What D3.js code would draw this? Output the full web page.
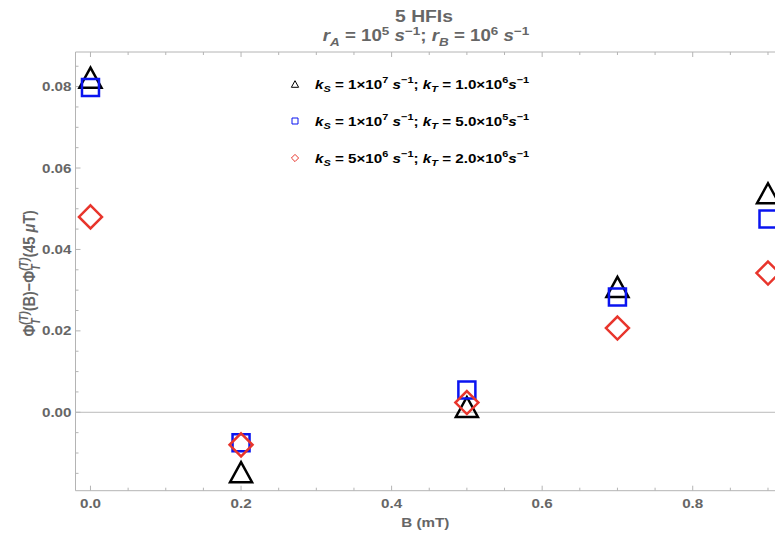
<!DOCTYPE html>
<html>
<head>
<meta charset="utf-8">
<script src="https://cdn.jsdelivr.net/npm/d3@7"></script>
<style>
  body { margin: 0; background: #fff; }
  svg { display: block; font-family: "Liberation Sans", Arial, sans-serif; }
</style>
</head>
<body>
<svg id="chart" width="775" height="538"></svg>
<script>
// field values (mT)
const fields = [0.0, 0.2, 0.5, 0.7, 0.9];
// Phi_T(B) - Phi_T(45 uT) per series
const triValues = [0.0822, -0.0147, 0.0013, 0.0308, 0.0538];
const sqValues = [0.0798, -0.0075, 0.0055, 0.0283, 0.0475];
const diaValues = [0.048, -0.008, 0.0024, 0.0207, 0.0342];

const xMajor = [0, 0.2, 0.4, 0.6, 0.8];
const yMajor = [0, 0.02, 0.04, 0.06, 0.08];

const svg = d3.select("#chart");
const plotLeft = 75.5, plotRight = 775, plotTop = 52, plotBottom = 490.7;
const grey = "#666";
const frameCol = "#b4b4b4";
const SX = 1.17; // the original text is a bit stretched horizontally

const x = d3.scaleLinear().domain([-0.0199, 0.9093]).range([plotLeft, plotRight]);
const y = d3.scaleLinear().domain([-0.01926, 0.0885]).range([plotBottom, plotTop]);

const at = (px, py) => `translate(${px},${py}) scale(${SX},1)`;

// frame
const frame = svg.append("g").attr("stroke", frameCol).attr("stroke-width", 1).attr("fill", "none");
frame.append("line").attr("x1", plotLeft).attr("x2", plotRight).attr("y1", plotTop).attr("y2", plotTop);
frame.append("line").attr("x1", plotLeft).attr("x2", plotRight).attr("y1", plotBottom).attr("y2", plotBottom);
frame.append("line").attr("x1", plotLeft).attr("x2", plotLeft).attr("y1", plotTop).attr("y2", plotBottom);
// zero axis
svg.append("line")
  .attr("x1", plotLeft).attr("x2", plotRight)
  .attr("y1", y(0)).attr("y2", y(0))
  .attr("stroke", "#bbb").attr("stroke-width", 1);

// x ticks (bottom + top frame, inward)
const xMinor = d3.range(0, 0.95, 0.05).filter(v => x(v) <= plotRight);
xMinor.forEach(v => {
  const major = xMajor.some(m => Math.abs(m - v) < 1e-6);
  const len = major ? 5 : 3;
  frame.append("line").attr("x1", x(v)).attr("x2", x(v)).attr("y1", plotBottom).attr("y2", plotBottom - len);
  frame.append("line").attr("x1", x(v)).attr("x2", x(v)).attr("y1", plotTop).attr("y2", plotTop + len);
});
// y ticks (left frame, inward)
const yMinor = d3.range(-0.015, 0.0886, 0.005);
yMinor.forEach(v => {
  const major = yMajor.some(m => Math.abs(m - v) < 1e-6);
  const len = major ? 5 : 3;
  frame.append("line").attr("x1", plotLeft).attr("x2", plotLeft + len).attr("y1", y(v)).attr("y2", y(v));
});

// tick labels
svg.append("g").selectAll("text").data(xMajor).join("text")
  .attr("transform", d => at(x(d), plotBottom + 17))
  .attr("text-anchor", "middle")
  .attr("font-size", 13).attr("font-weight", "bold").attr("fill", grey)
  .text(d => d3.format(".1f")(d));
svg.append("g").selectAll("text").data(yMajor).join("text")
  .attr("transform", d => at(plotLeft - 4, y(d) + 4.5))
  .attr("text-anchor", "end")
  .attr("font-size", 13).attr("font-weight", "bold").attr("fill", grey)
  .text(d => d3.format(".2f")(d));

// axis labels
svg.append("text")
  .attr("transform", at((plotLeft + plotRight) / 2, 527))
  .attr("text-anchor", "middle")
  .attr("font-size", 13).attr("font-weight", "bold").attr("fill", grey)
  .text("B (mT)");

// rich text helper: segments {t, pos: "sub"|"sup"|"stack", it}
function rich(sel, segs, size) {
  const small = size * 0.72;
  let shift = 0, lastW = 0;
  segs.forEach(s => {
    const ts = sel.append("tspan").text(s.t);
    if (s.it) ts.attr("font-style", "italic");
    let target = 0;
    if (s.pos === "sub") target = size * 0.3;
    else if (s.pos === "sup" || s.pos === "stack") target = -size * 0.4;
    ts.attr("dy", target - shift);
    shift = target;
    if (s.pos) ts.attr("font-size", small);
    if (s.pos === "stack") ts.attr("dx", -lastW);
    lastW = ts.node().getComputedTextLength();
  });
}

// y label
const yl = svg.append("text")
  .attr("transform", `translate(35,${(plotTop + plotBottom) / 2 + 2}) scale(${SX},1) rotate(-90)`)
  .attr("text-anchor", "middle")
  .attr("font-size", 14.5).attr("font-weight", "bold").attr("fill", grey);
rich(yl, [
  { t: "Φ" }, { t: "T", pos: "sub", it: true }, { t: "(T)", pos: "stack", it: true },
  { t: "(B)−Φ" }, { t: "T", pos: "sub", it: true }, { t: "(T)", pos: "stack", it: true },
  { t: "(45 " }, { t: "μ", it: true }, { t: "T)" }
], 14.5);

// title
svg.append("text")
  .attr("transform", at(424, 22))
  .attr("text-anchor", "middle")
  .attr("font-size", 16.5).attr("font-weight", "bold").attr("fill", grey)
  .text("5 HFIs");
const t2 = svg.append("text")
  .attr("transform", at(426, 41))
  .attr("text-anchor", "middle")
  .attr("font-size", 16).attr("font-weight", "bold").attr("fill", grey);
rich(t2, [
  { t: "r", it: true }, { t: "A", pos: "sub", it: true }, { t: " = 10" }, { t: "5", pos: "sup" },
  { t: " " }, { t: "s", it: true }, { t: "−1", pos: "sup" }, { t: "; " },
  { t: "r", it: true }, { t: "B", pos: "sub", it: true }, { t: " = 10" }, { t: "6", pos: "sup" },
  { t: " " }, { t: "s", it: true }, { t: "−1", pos: "sup" }
], 16);

// markers
const trianglePath = (r) => `M0,${-r}L${r * 1.1},${r}L${-r * 1.1},${r}Z`;
const squarePath = (r) => `M${-r},${-r}H${r}V${r}H${-r}Z`;
const diamondPath = (r) => `M0,${-r}L${r},0L0,${r}L${-r},0Z`;

const series = [
  { name: "tri", values: triValues, color: "#000", path: trianglePath(10), legend: trianglePath(3.3), tail: ["1×10", "7", "1.0×10", "6"] },
  { name: "sq", values: sqValues, color: "#0a14f0", path: squarePath(8.5), legend: squarePath(3), tail: ["1×10", "7", "5.0×10", "5"] },
  { name: "dia", values: diaValues, color: "#e8352c", path: diamondPath(11.5), legend: diamondPath(3.6), tail: ["5×10", "6", "2.0×10", "6"] }
];

const plot = svg.append("g");
series.forEach(s => {
  plot.append("g").selectAll("path")
    .data(fields.map((f, i) => ({ f, v: s.values[i] })))
    .join("path")
    .attr("transform", d => `translate(${x(d.f)},${y(d.v)})`)
    .attr("d", s.path)
    .attr("fill", "none")
    .attr("stroke", s.color)
    .attr("stroke-width", 2.5);
});

// legend
const legendRows = [84, 121, 158];
series.forEach((s, i) => {
  const cy = legendRows[i];
  svg.append("path")
    .attr("transform", `translate(295,${cy})`)
    .attr("d", s.legend)
    .attr("fill", "none")
    .attr("stroke", s.color)
    .attr("stroke-width", 1);
  const lt = svg.append("text")
    .attr("transform", at(315, cy + 4.5))
    .attr("font-size", 13).attr("font-weight", "bold").attr("fill", "#000");
  rich(lt, [
    { t: "k", it: true }, { t: "S", pos: "sub", it: true }, { t: " = " + s.tail[0] }, { t: s.tail[1], pos: "sup" },
    { t: " " }, { t: "s", it: true }, { t: "−1", pos: "sup" }, { t: "; " },
    { t: "k", it: true }, { t: "T", pos: "sub", it: true }, { t: " = " + s.tail[2] }, { t: s.tail[3], pos: "sup" },
    { t: "s", it: true }, { t: "−1", pos: "sup" }
  ], 13);
});
</script>
</body>
</html>
